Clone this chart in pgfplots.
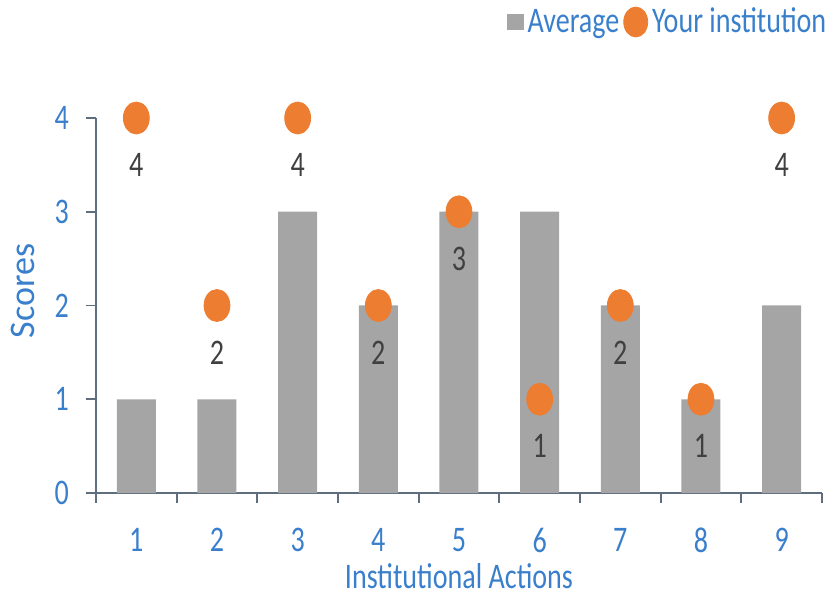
\documentclass[border=0pt]{standalone}
\usepackage{fontspec}
\setmainfont{Carlito}[FakeStretch=0.78]
\newfontfamily\uprightlab{Carlito}
\usepackage{pgfplots}
\pgfplotsset{compat=1.18}
\definecolor{avggray}{HTML}{A5A5A5}
\definecolor{instorange}{HTML}{ED7D31}
\definecolor{ticklblue}{HTML}{3A7FCC}
\definecolor{axisslate}{HTML}{5F6E7E}
\definecolor{valgray}{HTML}{404040}

\begin{document}
\begin{tikzpicture}
\path[use as bounding box] (-48pt,-53.5pt) rectangle (367.5pt,246.5pt);
\begin{axis}[
  at={(0,0)}, anchor=south west,
  width=363pt, height=187.5pt, scale only axis,
  xmin=0.5, xmax=9.5, ymin=0, ymax=4,
  axis x line=bottom, axis y line=left,
  axis line style={draw=axisslate, line width=0.9pt, -},
  xtick={1,...,9}, ytick={0,...,4},
  major x tick style={draw=none},
  minor xtick={0.5,1.5,...,9.5},
  minor tick length=5pt, major tick length=5pt,
  tick align=outside,
  tick style={draw=axisslate, line width=0.9pt},
  font=\fontsize{18}{20}\selectfont,
  ticklabel style={text=ticklblue, font=\fontsize{18}{20}\selectfont},
  xticklabel style={yshift=-9pt},
  yticklabel style={xshift=-5pt},
  /pgf/number format/assume math mode=true,
  xlabel={Institutional Actions},
  ylabel={\uprightlab Scores},
  label style={text=ticklblue},
  xlabel style={at={(axis description cs:0.5,-0.222)}, anchor=center},
  ylabel style={at={(axis description cs:-0.1006,0.539)}, anchor=center},
  clip=false,
  legend style={at={(1.012,1.256)}, anchor=east, draw=none, fill=none,
    legend columns=-1, text=ticklblue, font=\fontsize{18}{20}\selectfont,
    /tikz/every even column/.append style={column sep=0pt},
    legend cell align=left, inner sep=0pt},
]
\addplot[ybar, bar width=19.5pt, fill=avggray, draw=none,
  legend image code/.code={\fill[avggray] (0pt,-4.2pt) rectangle (8.5pt,4.2pt);}]
  coordinates {(1,1) (2,1) (3,3) (4,2) (5,3) (6,3) (7,2) (8,1) (9,2)};
\addlegendentry{Average}
\addplot[only marks, color=instorange, mark=*, mark size=8pt,
  mark options={xscale=0.81, fill=instorange, draw=instorange},
  nodes near coords, point meta=explicit symbolic,
  nodes near coords style={anchor=center, yshift=-23.5pt, text=valgray, font=\fontsize{18}{20}\selectfont},
  legend image code/.code={\fill[instorange] (5.5pt,0pt) ellipse (6pt and 7.5pt);}]
  coordinates {(1,4) [4] (2,2) [2] (3,4) [4] (4,2) [2] (5,3) [3] (6,1) [1] (7,2) [2] (8,1) [1] (9,4) [4]};
\addlegendentry{Your institution}
\end{axis}
\end{tikzpicture}
\end{document}
